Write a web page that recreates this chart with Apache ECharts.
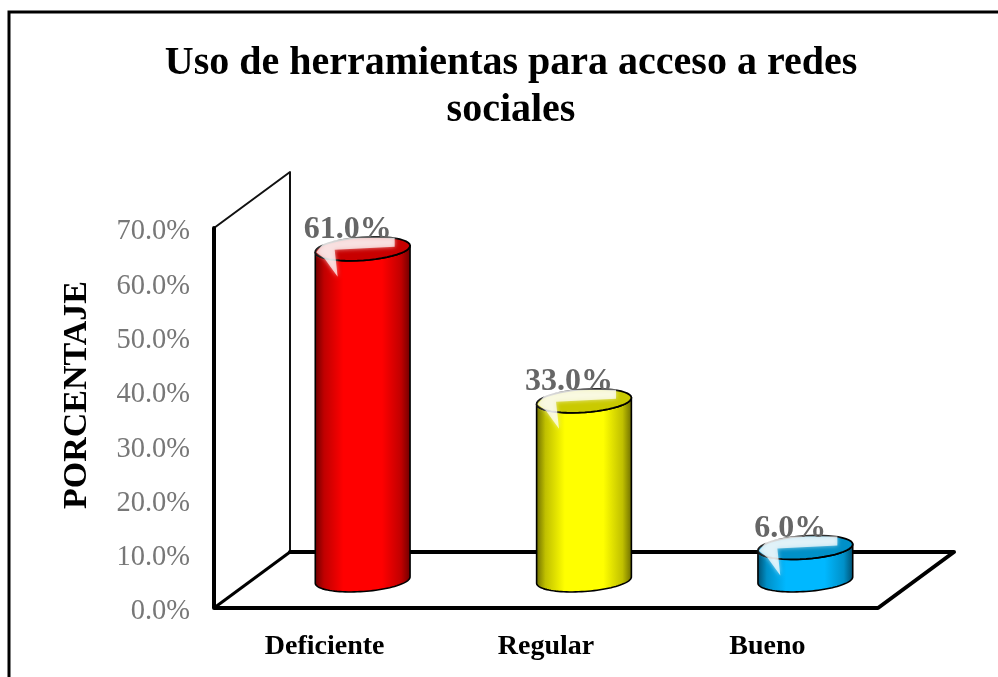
<!DOCTYPE html>
<html><head><meta charset="utf-8">
<style>html,body{margin:0;padding:0;background:#fff}#c{width:998px;height:677px}</style>
<script src="https://cdn.jsdelivr.net/npm/echarts@6/dist/echarts.min.js"></script>
</head><body><div id="c"></div>
<script>
var categories = ['Deficiente', 'Regular', 'Bueno'];
var values = [61.0, 33.0, 6.0];
var barColors = ['#ff0000', '#ffff00', '#00b8ff'];
var midColors = ['#c00000', '#c0c000', '#0090c8'];
var darkColors = ['#6a0000', '#6a6a00', '#004c6c'];
var topColors = ['#c80000', '#caca00', '#0090c8'];
var titleLines = 'Uso de herramientas para acceso a redes\nsociales';
var axisTitle = 'PORCENTAJE';
var depthX = 76, depthY = 56, rx = 47.5, ry = 11.5, tilt = -0.07;
var serif = '"Liberation Serif","Times New Roman",serif';

var chart = echarts.init(document.getElementById('c'), null, {renderer: 'canvas'});

function wallItem(params, api) {
  var o = api.coord([0, 0]);
  var t = api.coord([0, 70]);
  var cs = params.coordSys;
  var xL = cs.x, xR = cs.x + cs.width;
  var y0 = o[1], yT = t[1];
  var thin = {stroke: '#111', lineWidth: 2, lineJoin: 'round', fill: 'none'};
  var thick = {stroke: '#000', lineWidth: 4, lineJoin: 'round', lineCap: 'round', fill: 'none'};
  function poly(points, style) { return {type: 'polyline', shape: {points: points}, style: style}; }
  return {type: 'group', children: [
    poly([[xL, yT], [xL + depthX, yT - depthY], [xL + depthX, y0 - depthY]], thin),
    poly([[xL, y0], [xL + depthX, y0 - depthY]], {stroke: '#000', lineWidth: 3, fill: 'none'}),
    poly([[xL + depthX, y0 - depthY], [xR + depthX, y0 - depthY], [xR, y0], [xL, y0], [xL, yT]], thick)
  ]};
}

function ellipsePoint(cx, cy, a) {
  var px = rx * Math.cos(a), py = ry * Math.sin(a);
  return [cx + px * Math.cos(tilt) - py * Math.sin(tilt), cy + px * Math.sin(tilt) + py * Math.cos(tilt)];
}
function arcPoints(cx, cy, from, to) {
  var pts = [];
  for (var s = 0; s <= 48; s++) pts.push(ellipsePoint(cx, cy, from + (to - from) * s / 48));
  return pts;
}

function cylItem(params, api) {
  var i = params.dataIndex;
  var x = api.coord([api.value(0), 0])[0] + depthX / 2;
  var yB = api.coord([0, 0])[1] - depthY / 2;
  var yT = api.coord([0, api.value(1)])[1] - depthY / 2;
  var grad = new echarts.graphic.LinearGradient(0, 0, 1, 0, [
    {offset: 0, color: darkColors[i]},
    {offset: 0.1, color: midColors[i]},
    {offset: 0.3, color: barColors[i]},
    {offset: 0.7, color: barColors[i]},
    {offset: 0.9, color: midColors[i]},
    {offset: 1, color: darkColors[i]}
  ]);
  var bodyPts = arcPoints(x, yB, 0, Math.PI).concat(arcPoints(x, yT, Math.PI, 0));
  var topPts = arcPoints(x, yT, 0, 2 * Math.PI);
  var L = ellipsePoint(x, yT, Math.PI);
  return {type: 'group', children: [
    {type: 'polygon', shape: {points: bodyPts}, style: {fill: grad, stroke: '#000', lineWidth: 1.6, lineJoin: 'round'}},
    {type: 'polygon', shape: {points: topPts}, style: {fill: topColors[i], stroke: '#000', lineWidth: 1.8}},
    {type: 'polygon', shape: {points: [[L[0] + 1, L[1]], [x - 38, yT - 7], [x - 12, yT - 11], [x + 32, yT - 11], [x + 32, yT - 2], [x - 28, yT + 1], [x - 25, yT + 28], [x - 38, yT + 10]]},
      style: {fill: 'rgba(255,255,255,0.72)', shadowBlur: 4, shadowColor: 'rgba(255,255,255,0.8)'}},
    {type: 'text', x: x - 15, y: yT - 3, style: {text: api.value(1).toFixed(1) + '%', x: 0, y: 0, align: 'center', verticalAlign: 'bottom', fill: '#666666', fontFamily: serif, fontWeight: 'bold', fontSize: 32}, z2: 10}
  ]};
}

chart.setOption({
  animation: false,
  backgroundColor: '#fff',
  title: {
    text: titleLines, left: 506, top: 35, textAlign: 'center',
    textStyle: {fontFamily: serif, fontWeight: 'bold', fontSize: 40, color: '#000', lineHeight: 47}
  },
  grid: {left: 214, right: 120, top: 228, bottom: 69},
  xAxis: {
    type: 'category', data: categories,
    axisLine: {show: false}, axisTick: {show: false},
    axisLabel: {fontFamily: serif, fontWeight: 'bold', fontSize: 28, color: '#000', margin: 25}
  },
  yAxis: {
    type: 'value', min: 0, max: 70, interval: 10,
    name: axisTitle, nameLocation: 'middle', nameGap: 120,
    nameTextStyle: {fontFamily: serif, fontWeight: 'bold', fontSize: 34, color: '#000', padding: [0, 0, 0, 46]},
    axisLine: {show: false}, axisTick: {show: false}, splitLine: {show: false},
    axisLabel: {fontFamily: serif, fontSize: 28.5, color: '#777777', margin: 24, verticalAlign: 'top', lineHeight: 8, formatter: function (v) { return v.toFixed(1) + '%'; }}
  },
  graphic: [{type: 'rect', shape: {x: 9, y: 12, width: 1100, height: 800}, style: {fill: 'none', stroke: '#000', lineWidth: 3}, silent: true}],
  series: [
    {type: 'custom', coordinateSystem: 'cartesian2d', renderItem: wallItem, data: [[0, 0]], silent: true, z: 1, clip: false},
    {type: 'custom', coordinateSystem: 'cartesian2d', renderItem: cylItem, encode: {x: 0, y: 1},
      data: values.map(function (v, i) { return [i, v]; }), z: 2, clip: false}
  ]
});
</script></body></html>
